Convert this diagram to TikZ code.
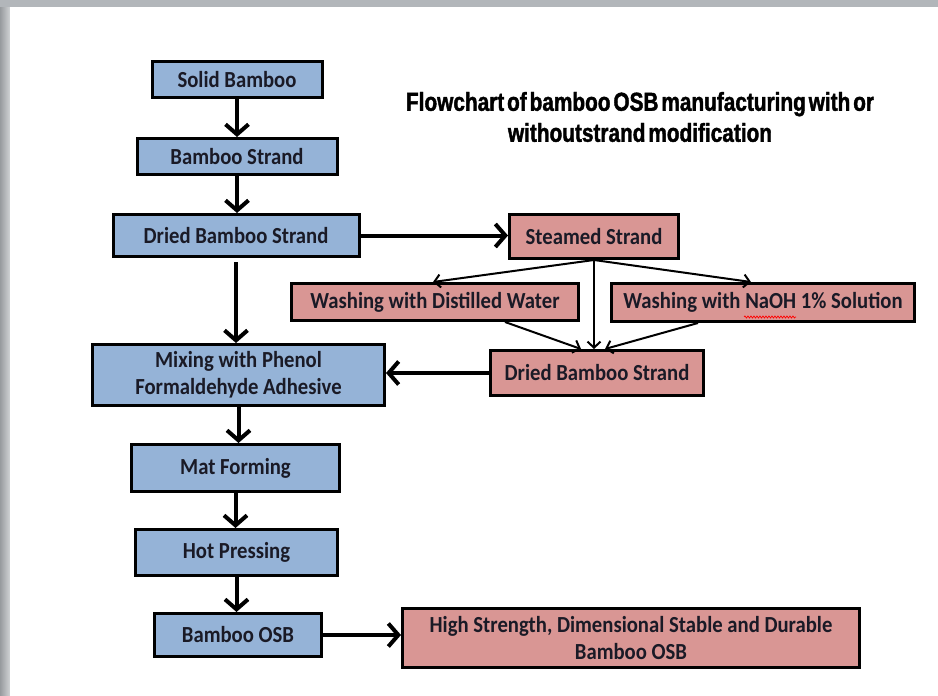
\documentclass[tikz,border=0pt]{standalone}
\usepackage{fontspec}
\setmainfont{Carlito}
\newfontfamily\boxfont[FakeStretch=0.9]{Carlito}
\newfontfamily\titlefont[FakeStretch=0.8,FakeBold=1.5,WordSpace=0.5]{Liberation Sans}
\usetikzlibrary{arrows.meta,decorations.pathmorphing}
\definecolor{bluefill}{HTML}{95B3D7}
\definecolor{pinkfill}{HTML}{D99694}
\definecolor{txt}{HTML}{1A1A26}
\definecolor{pagegray}{HTML}{B2B6BA}
\begin{document}
\begin{tikzpicture}[x=1pt,y=-1pt,
  box/.style={draw=black, line width=3pt, inner sep=0pt, text=txt, align=center,
    font=\boxfont\bfseries\fontsize{23}{27}\selectfont},
  bluebox/.style={box, fill=bluefill},
  pinkbox/.style={box, fill=pinkfill},
  bigarrow/.style={line width=4pt, -{Straight Barb[length=10pt,width=23pt]}},
  smallarrow/.style={line width=2pt, -{Straight Barb[length=6pt,width=13pt]}},
]
\useasboundingbox (0,0) rectangle (938,696);
\fill[pagegray] (0,0) rectangle (938,696);
\shade[left color=pagegray!85!black, right color=pagegray!60!white] (0,7) rectangle (10,696);
\fill[white] (10,7) rectangle (938,696);

% title
\node[font=\titlefont\bfseries\fontsize{26}{31}\selectfont, align=center, text=black] (title) at (640,117)
  {Flowchart of bamboo OSB manufacturing with or\\withoutstrand modification};

% main column
\node[bluebox, minimum width=170pt, minimum height=36pt] (solid) at (237,79.5) {Solid Bamboo};
\node[bluebox, minimum width=200pt, minimum height=36pt] (strand) at (237,156.5) {Bamboo Strand};
\node[bluebox, minimum width=246pt, minimum height=42pt] (dried) at (236,235.5) {Dried Bamboo Strand};
\node[bluebox, minimum width=292pt, minimum height=61pt] (mixing) at (238.5,375) {Mixing with Phenol\\Formaldehyde Adhesive};
\node[bluebox, minimum width=208pt, minimum height=47pt] (mat) at (235.5,468) {Mat Forming};
\node[bluebox, minimum width=202pt, minimum height=46pt] (hot) at (236.5,552.5) {Hot Pressing};
\node[bluebox, minimum width=167pt, minimum height=43pt] (osb) at (238,635) {Bamboo OSB};
\node[pinkbox, minimum width=457pt, minimum height=59pt] (high) at (631,638) {High Strength, Dimensional Stable and Durable\\Bamboo OSB};

% modification branch
\node[pinkbox, minimum width=169pt, minimum height=44pt] (steamed) at (594,236.5) {Steamed Strand};
\node[pinkbox, minimum width=287pt, minimum height=37pt] (distilled) at (435,302) {Washing with Distilled Water};
\node[pinkbox, minimum width=303pt, minimum height=38pt] (naoh) at (763,302.5) {Washing with NaOH 1\% Solution};
\node[pinkbox, minimum width=213pt, minimum height=45pt] (dried2) at (597,373) {Dried Bamboo Strand};

% spell-check squiggle under NaOH
\draw[red, line width=0.7pt, decorate, decoration={snake, amplitude=1pt, segment length=3pt}] (744,317) -- (796,317);

% connectors
\draw[bigarrow] (solid.south) -- (solid.south |- strand.north);
\draw[bigarrow] (strand.south) -- (strand.south |- dried.north);
\draw[bigarrow, shorten <=4pt] (dried.south) -- (dried.south |- mixing.north);
\draw[bigarrow] (mixing.south) -- (mixing.south |- mat.north);
\draw[bigarrow] (mat.south) -- (mat.south |- hot.north);
\draw[bigarrow] (hot.south) -- (hot.south |- osb.north);
\draw[bigarrow] (osb.east) -- (osb.east -| high.west);
\draw[bigarrow] (dried.east) -- (dried.east -| steamed.west);
\draw[bigarrow] (dried2.west) -- (dried2.west -| mixing.east);

\draw[smallarrow] (steamed.south) -- ([xshift=-2pt]distilled.north);
\draw[smallarrow] (steamed.south) -- ([xshift=-12pt]naoh.north);
\draw[smallarrow] (steamed.south) -- (steamed.south |- dried2.north);
\draw[smallarrow] ([xshift=70pt]distilled.south) -- ([xshift=-16pt]dried2.north);
\draw[smallarrow] ([xshift=-65pt]naoh.south) -- ([xshift=8pt]dried2.north);
\end{tikzpicture}
\end{document}
